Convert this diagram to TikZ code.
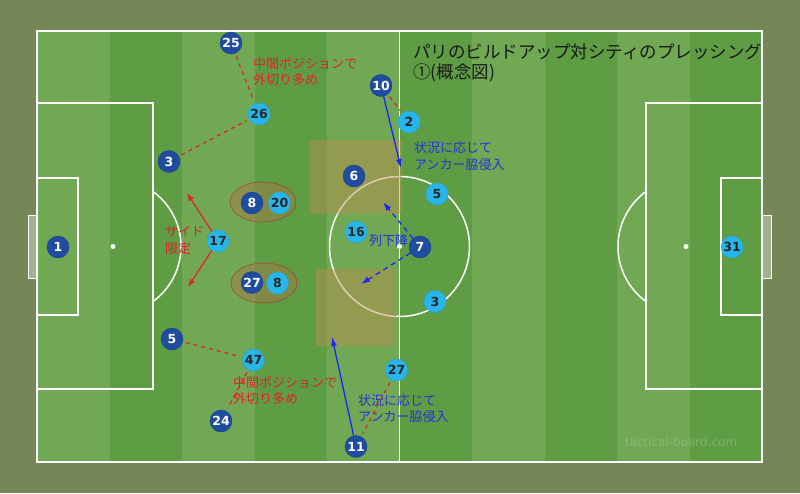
\documentclass[tikz,border=0pt]{standalone}
\usepackage{fontspec}
\setmainfont{Noto Sans CJK JP}
\newfontfamily\numfont{DejaVu Sans}
\usetikzlibrary{arrows.meta}

\definecolor{turf}{RGB}{117,134,87}
\definecolor{grasslight}{RGB}{112,168,83}
\definecolor{grassdark}{RGB}{95,157,69}
\definecolor{parisblue}{RGB}{32,76,160}
\definecolor{citycyan}{RGB}{40,182,234}
\definecolor{pressred}{RGB}{228,32,42}
\definecolor{runblue}{RGB}{25,40,245}
\definecolor{textblue}{RGB}{35,50,220}
\definecolor{zonetan}{RGB}{190,140,80}
\definecolor{pairbrown}{RGB}{180,110,70}

\tikzset{
  paris/.style={circle, fill=parisblue, draw=parisblue!85!black, text=white,
    minimum size=22pt, inner sep=0pt, font=\numfont\bfseries\fontsize{12.5}{12.5}\selectfont},
  city/.style={paris, fill=citycyan, draw=citycyan!90!black, text=black!85},
  pitchline/.style={white, line width=1.5pt},
  presslink/.style={pressred, line width=1.2pt, dash pattern=on 4pt off 4pt,
    shorten <=3pt, shorten >=3pt},
  sidearrow/.style={pressred, line width=1.2pt, -{Latex[length=8pt,width=6pt]}},
  runarrow/.style={runblue, line width=1.3pt, -{Latex[length=9pt,width=6pt]}},
  droparrow/.style={runarrow, dash pattern=on 5pt off 4pt},
  pairzone/.style={pressred!80!black, line width=0.6pt, draw opacity=0.6,
    fill=pairbrown, fill opacity=0.4},
  redlbl/.style={text=pressred, align=left, anchor=west, inner sep=0pt,
    font=\fontsize{13}{16.5}\selectfont},
  bluelbl/.style={redlbl, text=textblue},
}

\begin{document}
\begin{tikzpicture}[x=1pt, y=-1pt]

    \useasboundingbox (0,0) rectangle (800,493);
    \fill[turf] (0,0) rectangle (800,493);

    % grass stripes
    \fill[grassdark] (37,31) rectangle (762,462);
    \foreach \i in {0,2,...,8}
        \fill[grasslight] ({37+72.5*\i},31) rectangle ({109.5+72.5*\i},462);

    % pitch lines
    \draw[pitchline] (37,31) rectangle (762,462);
    \draw[pitchline] (399.5,31) -- (399.5,462);
    \draw[pitchline] (399.5,246.5) circle (70pt);
    \fill[white] (399.5,246.5) circle (2.5pt);

    % left box
    \draw[pitchline] (37,103) rectangle (153,389);
    \draw[pitchline] (37,178) rectangle (78,315);
    \fill[white] (113,246.5) circle (2.5pt);
    \begin{scope}
        \clip (153,31) rectangle (399,462);
        \draw[pitchline] (113,246.5) circle (68pt);
    \end{scope}
    \draw[white, line width=0.8pt, fill=white, fill opacity=0.35] (28,215) rectangle (37,278);

    % right box
    \draw[pitchline] (646,103) rectangle (762,389);
    \draw[pitchline] (721,178) rectangle (762,315);
    \fill[white] (686,246.5) circle (2.5pt);
    \begin{scope}
        \clip (400,31) rectangle (646,462);
        \draw[pitchline] (686,246.5) circle (68pt);
    \end{scope}
    \draw[white, line width=0.8pt, fill=white, fill opacity=0.35] (762,215) rectangle (771,278);

    % zones beside the anchor
    \fill[zonetan, opacity=0.45] (310,140) rectangle (402,214);
    \fill[zonetan, opacity=0.45] (316,269) rectangle (396,346);

    % double pivots
    \draw[pairzone] (263,202) ellipse [x radius=33pt, y radius=20pt];
    \draw[pairzone] (264,283) ellipse [x radius=33pt, y radius=20pt];

    % title
    \node[anchor=west, align=left, inner sep=0pt, text=black!90,
        font=\fontsize{17.5}{20.5}\selectfont] (title) at (413,63)
        {パリのビルドアップ対シティのプレッシング\\①(概念図)};

    % labels
    \node[redlbl] (lbltop) at (253,71.5) {中間ポジションで\\外切り多め};
    \node[redlbl] (lblbot) at (233,390.5) {中間ポジションで\\外切り多め};
    \node[redlbl] (lblside) at (165,240.5) {サイド\\限定};
    \node[bluelbl] (lblrun1) at (414,156) {状況に応じて\\アンカー脇侵入};
    \node[bluelbl] (lblrun2) at (358,408.5) {状況に応じて\\アンカー脇侵入};
    \node[bluelbl] (lbldrop) at (369,241) {列下降};

    % Paris
    \node[paris] (p1) at (58,247) {1};
    \node[paris] (p25) at (231,43) {25};
    \node[paris] (p3) at (169,161.5) {3};
    \node[paris] (p10) at (381,85.5) {10};
    \node[paris] (p6) at (354,176) {6};
    \node[paris] (p8) at (252,203) {8};
    \node[paris] (p27) at (252,282.5) {27};
    \node[paris] (p7) at (420,247) {7};
    \node[paris] (p5) at (172,339) {5};
    \node[paris] (p24) at (221,421) {24};
    \node[paris] (p11) at (356,446.5) {11};

    % City
    \node[city] (c26) at (259,114) {26};
    \node[city] (c2) at (409,122) {2};
    \node[city] (c5) at (437,194) {5};
    \node[city] (c20) at (279.5,203) {20};
    \node[city] (c17) at (218,241) {17};
    \node[city] (c16) at (356,232) {16};
    \node[city] (c8) at (277.5,283) {8};
    \node[city] (c3) at (435,301.5) {3};
    \node[city] (c47) at (253.5,360) {47};
    \node[city] (c27) at (396.5,370) {27};
    \node[city] (c31) at (732,247) {31};

    % pressing lines
    \draw[presslink] (p25) -- (c26);
    \draw[presslink] (p3) -- (c26);
    \draw[presslink] (p10) -- (c2);
    \draw[presslink] (p5) -- (c47);
    \draw[presslink] (c47) -- (p24);
    \draw[presslink] (c27) -- (p11);

    % side arrows
    \coordinate (wideup) at (187,193);
    \coordinate (widedown) at (188,287);
    \draw[sidearrow] (c17) -- (wideup);
    \draw[sidearrow] (c17) -- (widedown);

    % runs
    \coordinate (anchorL) at (401,168);
    \coordinate (anchorR) at (332,337);
    \draw[runarrow] (p10) -- (anchorL);
    \draw[runarrow] (p11) -- (anchorR);

    % dropping
    \coordinate (dropup) at (383,202);
    \coordinate (dropdown) at (361,284);
    \draw[droparrow] (p7) -- (dropup);
    \draw[droparrow] (p7) -- (dropdown);

    % watermark
    \node[font=\numfont\fontsize{12}{12}\selectfont, text=white, text opacity=0.2] (mark)
        at (681,442.5) {tactical-board.com};

\end{tikzpicture}
\end{document}
